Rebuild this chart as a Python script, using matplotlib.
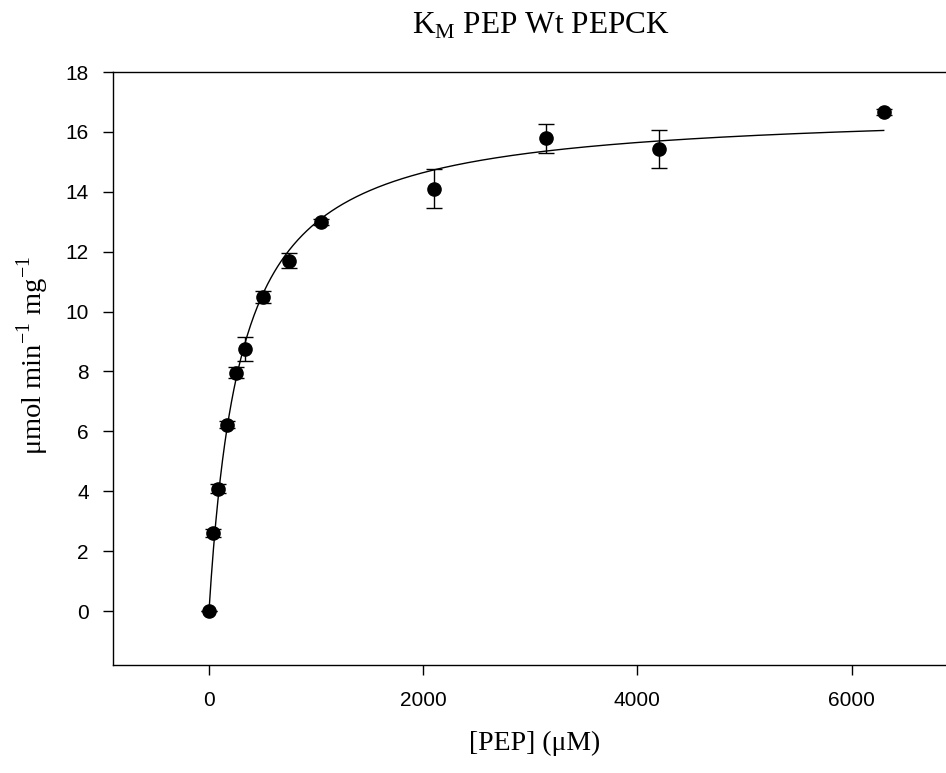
import numpy as np
import matplotlib
matplotlib.use("Agg")
import matplotlib.pyplot as plt

# Data
pep_conc = [0, 42, 84, 168, 250, 336, 500, 750, 1050, 2100, 3150, 4200, 6300]
rate = [0.0, 2.61, 4.08, 6.23, 7.96, 8.74, 10.48, 11.70, 12.99, 14.11, 15.78, 15.43, 16.65]
rate_err = [0.0, 0.12, 0.15, 0.12, 0.18, 0.40, 0.20, 0.25, 0.10, 0.64, 0.50, 0.65, 0.10]

# Michaelis-Menten fit parameters
vmax = 16.80
km = 295.0
fit_range = (0, 6300)

x_ticks = [0, 2000, 4000, 6000]
y_ticks = [0, 2, 4, 6, 8, 10, 12, 14, 16, 18]

fig = plt.figure(figsize=(9.46, 7.73), dpi=100)
W, H = 946, 773
left_px, right_px, top_px, bottom_px = 112.6, 958.7, 72.0, 665.0
ax = fig.add_axes([left_px / W, 1 - bottom_px / H,
                   (right_px - left_px) / W, (bottom_px - top_px) / H])

xf = np.linspace(fit_range[0], fit_range[1], 600)
yf = vmax * xf / (km + xf)
ax.plot(xf, yf, color="black", lw=1.0, zorder=2)

ax.errorbar(pep_conc, rate, yerr=rate_err, fmt="o", color="black",
            markersize=9.5, ecolor="black", elinewidth=1.0, capsize=6,
            capthick=1.0, zorder=3)

ax.set_xlim(-900, 7000)
ax.set_ylim(-1.8, 18)
ax.set_xticks(x_ticks)
ax.set_yticks(y_ticks)

tick_font = dict(family="Liberation Sans", size=15)
ax.set_xticklabels([str(t) for t in x_ticks], **tick_font)
ax.set_yticklabels([str(t) for t in y_ticks], **tick_font)
ax.tick_params(direction="out", length=7, width=1.0)
ax.tick_params(axis="x", pad=12)
ax.tick_params(axis="y", pad=10)
for s in ax.spines.values():
    s.set_linewidth(1.0)

serif = "Liberation Serif"
fig.text(541 / W, 1 - 34 / H, r"K$_\mathregular{M}$ PEP Wt PEPCK",
         ha="center", va="baseline", fontsize=22.5, family=serif)
fig.text(535 / W, 1 - 750 / H, "[PEP] (\u03bcM)", ha="center", va="baseline",
         fontsize=20, family=serif)
fig.text(33 / W, 1 - 355 / H,
         "\u03bcmol min$^\\mathregular{-1}$ mg$^\\mathregular{-1}$",
         ha="center", va="center", rotation=90, fontsize=20.5, family=serif)

fig.savefig("out.png", dpi=100)
